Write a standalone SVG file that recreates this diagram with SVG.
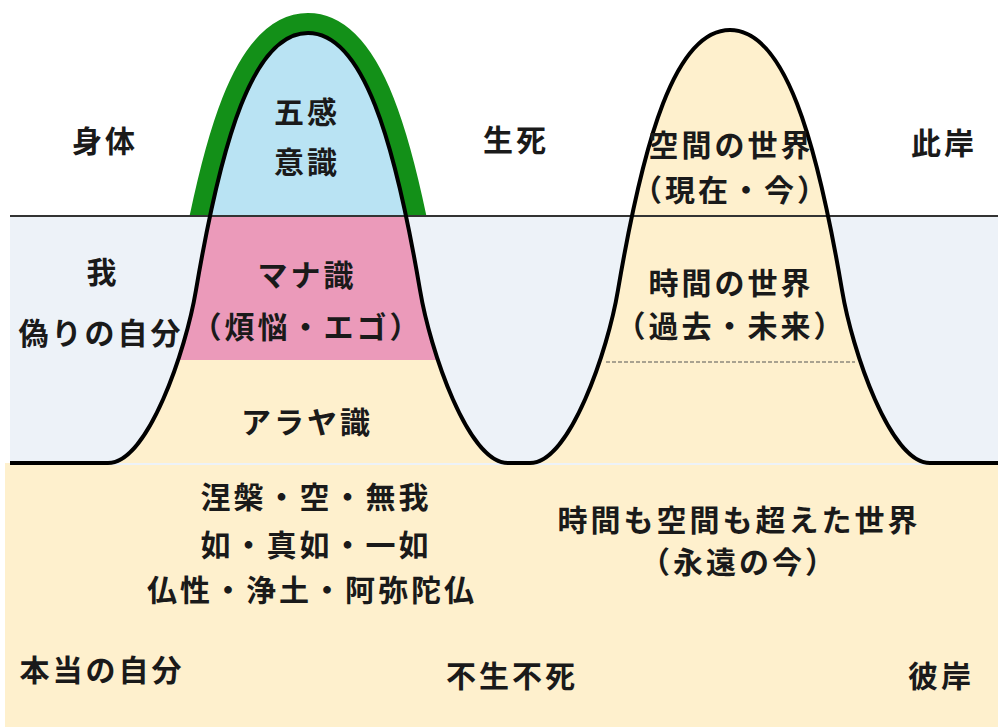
<svg xmlns="http://www.w3.org/2000/svg" width="998" height="727" viewBox="0 0 998 727">
  <defs>
    <path id="peakL" d="M108 463 C148 463 186 350 196 290 C221.5 140 253 33 308 33 C363 33 394.5 140 420 290 C430 350 468 463 508 463 Z"/>
    <path id="peakR" d="M530 463 C570 463 608 350 618 290 C643.5 140 675 30 730 30 C785 30 816.5 140 842 290 C852 350 890 463 930 463 Z"/>
    <clipPath id="clipL"><use href="#peakL"/></clipPath>
    <clipPath id="clipTop"><rect x="150" y="0" width="320" height="215"/></clipPath>
    <style>
      .t { font-family: "Noto Sans CJK JP", "Noto Sans CJK SC", sans-serif; font-size: 30px; font-weight: 700; fill: #1a1a1a; text-anchor: middle; letter-spacing: 3px; }
      .outline { fill: none; stroke: #000; stroke-width: 4; stroke-linejoin: round; }
    </style>
  </defs>

  <rect x="0" y="0" width="998" height="727" fill="#ffffff"/>

  <g id="background">
    <rect x="5" y="463" width="993" height="264" fill="#fef0cd"/>
    <rect x="10" y="216" width="988" height="249" fill="#edf2f8"/>
  </g>

  <g id="peak-left">
    <use href="#peakL" fill="none" stroke="#139018" stroke-width="40" clip-path="url(#clipTop)"/>
    <use href="#peakL" fill="#fef0cd"/>
    <g clip-path="url(#clipL)">
      <rect x="100" y="0" width="420" height="216" fill="#b9e3f3"/>
      <rect x="100" y="216" width="420" height="144" fill="#eb9aba"/>
    </g>
  </g>

  <g id="peak-right">
    <use href="#peakR" fill="#fef0cd"/>
    <line x1="606" y1="362" x2="855" y2="362" stroke="#555" stroke-width="1.2" stroke-dasharray="4 2"/>
  </g>

  <g id="lines">
    <line x1="10" y1="216" x2="998" y2="216" stroke="#333" stroke-width="2.2"/>
    <path class="outline" d="M10 463 L108 463 C148 463 186 350 196 290 C221.5 140 253 33 308 33 C363 33 394.5 140 420 290 C430 350 468 463 508 463 L530 463 C570 463 608 350 618 290 C643.5 140 675 30 730 30 C785 30 816.5 140 842 290 C852 350 890 463 930 463 L998 463"/>
  </g>

  <g id="labels">
    <text class="t" x="105" y="152">身体</text>
    <text class="t" x="307" y="123">五感</text>
    <text class="t" x="307" y="173">意識</text>
    <text class="t" x="516" y="151">生死</text>
    <text class="t" x="731" y="156">空間の世界</text>
    <text class="t" x="731" y="201">（現在・今）</text>
    <text class="t" x="944" y="154">此岸</text>
    <text class="t" x="103" y="283">我</text>
    <text class="t" x="101" y="344">偽りの自分</text>
    <text class="t" x="307" y="286">マナ識</text>
    <text class="t" x="307" y="338">（煩悩・エゴ）</text>
    <text class="t" x="307" y="433">アラヤ識</text>
    <text class="t" x="731" y="294">時間の世界</text>
    <text class="t" x="731" y="337">（過去・未来）</text>
    <text class="t" x="316" y="508">涅槃・空・無我</text>
    <text class="t" x="316" y="556">如・真如・一如</text>
    <text class="t" x="312" y="601">仏性・浄土・阿弥陀仏</text>
    <text class="t" x="739" y="531">時間も空間も超えた世界</text>
    <text class="t" x="739" y="573">（永遠の今）</text>
    <text class="t" x="102" y="681">本当の自分</text>
    <text class="t" x="512" y="687">不生不死</text>
    <text class="t" x="941" y="687">彼岸</text>
  </g>
</svg>
